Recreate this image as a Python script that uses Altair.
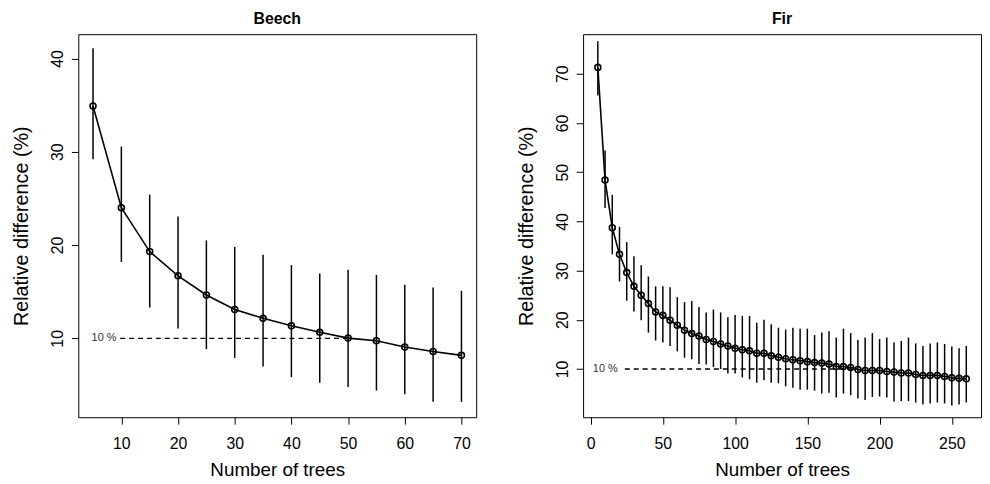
import altair as alt
import pandas as pd

# ---------------- data ----------------
beech_n = [5, 10, 15, 20, 25, 30, 35, 40, 45, 50, 55, 60, 65, 70]
beech_mean = [34.9, 24.0, 19.3, 16.7, 14.65, 13.1, 12.15, 11.35, 10.65, 10.03, 9.75, 9.07, 8.6, 8.18]
beech_lo = [29.2, 18.2, 13.3, 11.05, 8.85, 7.9, 7.0, 5.85, 5.25, 4.8, 4.4, 4.0, 3.2, 3.2]
beech_hi = [41.1, 30.55, 25.4, 23.05, 20.5, 19.8, 18.95, 17.85, 16.95, 17.35, 16.8, 15.75, 15.45, 15.1]

fir_n = [5, 10, 15, 20, 25, 30, 35, 40, 45, 50, 55, 60, 65, 70, 75, 80, 85, 90, 95, 100,
         105, 110, 115, 120, 125, 130, 135, 140, 145, 150, 155, 160, 165, 170, 175, 180,
         185, 190, 195, 200, 205, 210, 215, 220, 225, 230, 235, 240, 245, 250, 255, 260]
fir_mean = [71.3, 48.4, 38.7, 33.3, 29.6, 26.8, 25.0, 23.3, 21.6, 20.9, 19.9, 18.9, 17.9, 17.2,
            16.7, 16.0, 15.6, 15.1, 14.7, 14.2, 13.9, 13.7, 13.2, 13.2, 12.7, 12.4, 12.1, 11.9,
            11.7, 11.5, 11.3, 11.2, 11.0, 10.5, 10.5, 10.3, 9.9, 9.7, 9.7, 9.7, 9.5, 9.4, 9.2,
            9.2, 8.9, 8.7, 8.7, 8.7, 8.5, 8.2, 8.1, 8.0]
fir_lo = [65.6, 42.7, 33.3, 27.8, 23.9, 21.7, 19.9, 17.4, 15.8, 15.4, 14.7, 13.6, 12.3, 12.0,
          11.0, 10.9, 10.4, 10.0, 9.1, 9.1, 8.3, 7.9, 7.2, 7.7, 7.2, 7.1, 6.5, 6.2, 5.8, 5.8,
          5.6, 5.0, 5.2, 4.2, 5.0, 4.7, 4.0, 3.7, 4.3, 4.4, 4.2, 3.4, 3.5, 3.5, 3.2, 2.8, 3.0,
          3.2, 3.0, 2.6, 2.8, 3.2]
fir_hi = [76.6, 54.4, 45.4, 38.9, 35.8, 32.9, 31.1, 28.8, 26.8, 26.8, 26.6, 24.6, 23.6, 23.8,
          22.6, 21.5, 22.1, 21.5, 20.5, 21.0, 20.8, 20.8, 19.4, 20.0, 19.1, 18.4, 18.0, 18.4,
          18.2, 18.2, 16.9, 17.4, 17.7, 16.4, 18.2, 17.3, 15.9, 16.4, 17.3, 16.1, 16.4, 15.4,
          15.7, 16.4, 15.2, 14.7, 15.2, 15.4, 15.1, 14.6, 14.2, 14.7]

panel_titles = ["Beech", "Fir"]
ref_level = 10
ref_label = "10 %"
beech_ref_span = [9.8, 50]
fir_ref_span = [23.7, 185]
beech_label_x = 9.3
fir_label_x = 19.4

x_title = "Number of trees"
y_title = "Relative difference (%)"

FONT = "Liberation Sans"


def panel(title, n, mean, lo, hi, span, label_x, xdom, ydom, xticks, yticks):
    df = pd.DataFrame({"n": n, "mean": mean, "lo": lo, "hi": hi})
    ref = pd.DataFrame({"x0": [span[0]], "x1": [span[1]], "y": [ref_level],
                        "lx": [label_x], "label": [ref_label]})
    xs = alt.Scale(domain=xdom, nice=False, zero=False)
    ys = alt.Scale(domain=ydom, nice=False, zero=False)
    xax = alt.Axis(values=xticks, title=x_title, format="d", labelPadding=12,
                   titlePadding=9, titleFontSize=19)
    yax = alt.Axis(values=yticks, title=y_title, format="d", labelAngle=270,
                   labelAlign="center", labelBaseline="alphabetic", labelPadding=9,
                   titlePadding=18, titleFontSize=20)
    base = alt.Chart(df)
    bars = base.mark_rule(color="black", strokeWidth=1.5).encode(
        x=alt.X("n:Q", scale=xs, axis=xax),
        y=alt.Y("lo:Q", scale=ys, axis=yax),
        y2="hi:Q",
    )
    line = base.mark_line(color="black", strokeWidth=1.6).encode(
        x=alt.X("n:Q", scale=xs), y=alt.Y("mean:Q", scale=ys)
    )
    pts = base.mark_point(shape="circle", filled=False, color="black", size=36,
                          strokeWidth=1.6, opacity=1).encode(
        x=alt.X("n:Q", scale=xs), y=alt.Y("mean:Q", scale=ys)
    )
    rb = alt.Chart(ref)
    dash = rb.mark_rule(color="black", strokeWidth=1.3, strokeDash=[5, 4]).encode(
        x=alt.X("x0:Q", scale=xs), x2="x1:Q", y=alt.Y("y:Q", scale=ys)
    )
    txt = rb.mark_text(align="right", baseline="middle", fontSize=11, font=FONT,
                       color="#333333", dx=-1).encode(
        x=alt.X("lx:Q", scale=xs), y=alt.Y("y:Q", scale=ys), text="label:N"
    )
    return alt.layer(bars, line, pts, dash, txt).properties(
        width=402, height=387,
        title=alt.TitleParams(title, fontSize=16, fontWeight="bold", font=FONT,
                              color="black", offset=7),
    )


left = panel(panel_titles[0], beech_n, beech_mean, beech_lo, beech_hi, beech_ref_span,
             beech_label_x, [2.4, 72.6], [1.55, 42.6], [10, 20, 30, 40, 50, 60, 70],
             [10, 20, 30, 40])
right = panel(panel_titles[1], fir_n, fir_mean, fir_lo, fir_hi, fir_ref_span,
              fir_label_x, [-5.2, 270.2], [0.2, 78.05], [0, 50, 100, 150, 200, 250],
              [10, 20, 30, 40, 50, 60, 70])

chart = alt.hconcat(left, right, spacing=39).properties(
    padding={"left": 3, "top": 0, "right": 0, "bottom": 0}
).configure_view(
    stroke="black", strokeWidth=1
).configure_axis(
    grid=False, domain=False, tickColor="black", tickSize=7, tickWidth=1,
    labelFont=FONT, labelFontSize=16, labelColor="black",
    titleFont=FONT, titleFontWeight="normal", titleColor="black",
)

chart.save("out.html", embed_options={"renderer": "svg", "actions": False})
